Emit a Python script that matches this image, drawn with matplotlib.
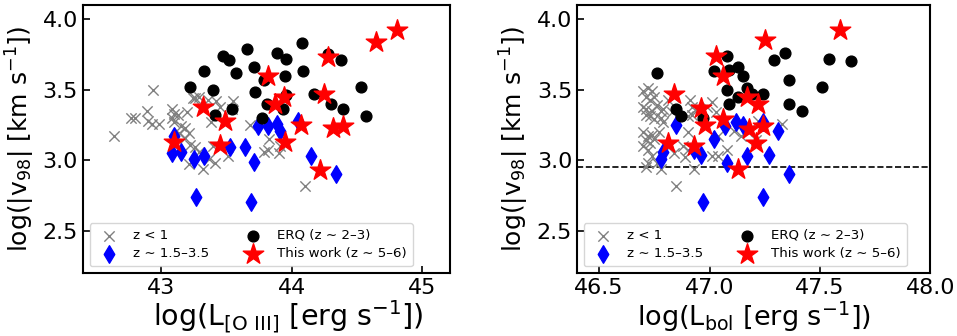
import matplotlib.pyplot as plt
import numpy as np

# ---- datos: panel izquierdo (L[OIII]) ----
loiii_low = [42.64, 42.77, 42.80, 42.89, 42.90, 42.93, 42.98, 42.94, 43.08, 43.10,
             43.08, 43.13, 43.10, 43.15, 43.20, 43.26, 43.29, 43.36, 43.42, 43.45,
             43.55, 43.54, 43.38, 43.21, 43.18, 43.22, 43.26, 43.29, 43.40, 43.37,
             43.41, 43.32, 43.21, 43.51, 43.68, 43.79, 43.82, 43.90, 43.83, 43.91,
             44.10, 43.14, 43.18, 43.24]
v98_low_l = [3.17, 3.30, 3.30, 3.35, 3.28, 3.26, 3.26, 3.50, 3.36, 3.33,
             3.30, 3.32, 3.27, 3.24, 3.34, 3.44, 3.45, 3.43, 3.42, 3.38,
             3.42, 3.36, 3.27, 3.19, 3.16, 3.11, 3.09, 3.06, 3.10, 3.01,
             2.98, 2.94, 2.97, 3.03, 3.25, 3.06, 3.07, 3.05, 3.15, 3.10,
             2.82, 3.19, 3.23, 3.44]

loiii_mid = [43.10, 43.08, 43.15, 43.25, 43.33, 43.53, 43.64, 43.71, 43.74, 43.82,
             43.89, 43.91, 44.05, 44.15, 44.34, 43.27, 43.69]
v98_mid_l = [3.17, 3.05, 3.06, 3.01, 3.03, 3.09, 3.09, 2.99, 3.24, 3.24,
             3.26, 3.21, 3.28, 3.03, 2.90, 2.74, 2.70]

loiii_erq = [43.22, 43.33, 43.40, 43.47, 43.52, 43.57, 43.54, 43.41, 43.66, 43.71,
             43.72, 43.77, 43.81, 43.79, 43.89, 43.96, 43.95, 43.96, 43.93, 44.08,
             44.09, 44.17, 44.28, 44.38, 44.30, 44.39, 44.53, 44.57]
v98_erq_l = [3.52, 3.63, 3.50, 3.74, 3.71, 3.62, 3.36, 3.32, 3.79, 3.66,
             3.48, 3.30, 3.40, 3.57, 3.76, 3.72, 3.60, 3.46, 3.36, 3.83,
             3.63, 3.47, 3.75, 3.71, 3.40, 3.36, 3.52, 3.31]

loiii_tw = [43.10, 43.32, 43.45, 43.49, 43.82, 43.87, 43.94, 43.95, 44.07, 44.22,
            44.25, 44.28, 44.32, 44.39, 44.65, 44.81]
v98_tw_l = [3.13, 3.38, 3.11, 3.28, 3.60, 3.40, 3.45, 3.13, 3.25, 2.93,
            3.47, 3.73, 3.23, 3.24, 3.84, 3.92]

# ---- datos: panel derecho (Lbol) ----
lbol_low = [46.70, 46.72, 46.74, 46.71, 46.73, 46.75, 46.70, 46.71, 46.74, 46.76,
            46.78, 46.79, 46.71, 46.73, 46.75, 46.78, 46.79, 46.70, 46.72, 46.74,
            46.77, 46.71, 46.73, 46.75, 46.70, 46.72, 46.74, 46.72, 46.76, 46.78,
            46.71, 46.83, 46.84, 46.81, 46.91, 46.92, 46.90, 46.92, 46.94, 46.99,
            47.01, 47.03, 46.90, 46.88, 46.90, 46.93, 46.89, 46.85, 47.04, 47.08,
            47.04, 47.11, 47.14, 47.17, 47.21, 47.22, 47.33, 46.82, 46.84, 47.01]
v98_low_r = [3.49, 3.51, 3.49, 3.45, 3.43, 3.45, 3.38, 3.36, 3.35, 3.39,
             3.35, 3.36, 3.32, 3.31, 3.29, 3.30, 3.27, 3.20, 3.17, 3.18,
             3.20, 3.14, 3.12, 3.15, 3.10, 3.07, 3.03, 2.98, 2.98, 2.94,
             2.95, 3.34, 3.45, 3.43, 3.43, 3.38, 3.31, 3.32, 3.36, 3.38,
             3.41, 3.34, 3.20, 3.10, 3.07, 2.94, 3.02, 2.82, 3.03, 3.07,
             3.17, 3.21, 3.17, 3.21, 3.14, 3.28, 3.26, 3.10, 3.05, 3.03]

lbol_mid = [46.79, 46.78, 46.85, 46.93, 46.96, 47.02, 47.07, 47.08, 47.12, 47.15,
            47.17, 47.24, 47.27, 47.31, 47.36, 47.24, 46.97]
v98_mid_r = [3.06, 3.01, 3.25, 3.07, 3.04, 3.15, 3.24, 2.98, 3.27, 3.25,
             3.03, 3.27, 3.04, 3.21, 2.90, 2.74, 2.70]

lbol_erq = [46.76, 46.85, 46.87, 46.97, 47.02, 47.08, 47.09, 47.13, 47.15, 47.08,
            47.09, 47.13, 47.17, 47.19, 47.24, 47.29, 47.34, 47.36, 47.36, 47.42,
            47.51, 47.54, 47.64]
v98_erq_r = [3.62, 3.36, 3.31, 3.30, 3.63, 3.74, 3.64, 3.66, 3.60, 3.50,
             3.40, 3.45, 3.51, 3.47, 3.47, 3.71, 3.76, 3.57, 3.40, 3.35,
             3.52, 3.72, 3.70]

lbol_tw = [46.81, 46.84, 46.93, 46.96, 46.98, 47.03, 47.06, 47.06, 47.13, 47.17,
           47.18, 47.21, 47.22, 47.24, 47.25, 47.59]
v98_tw_r = [3.12, 3.47, 3.10, 3.37, 3.25, 3.74, 3.60, 3.29, 2.94, 3.45,
            3.22, 3.12, 3.40, 3.24, 3.85, 3.92]

linea_corte = 2.95

etiquetas = ['z < 1', 'z ∼ 1.5–3.5', 'ERQ (z ∼ 2–3)', 'This work (z ∼ 5–6)']

fig = plt.figure(figsize=(9.57, 3.36), dpi=100)
ax1 = fig.add_axes([0.0867, 0.1875, 0.3830, 0.7975])
ax2 = fig.add_axes([0.6030, 0.1875, 0.3693, 0.7975])


def dibujar(ax, xl, yl, xm, ym, xe, ye, xt, yt):
    ax.scatter(xl, yl, marker='x', s=55, c='gray', linewidths=1.0, label=etiquetas[0], zorder=2)
    ax.scatter(xm, ym, marker='d', s=80, c='blue', label=etiquetas[1], zorder=3)
    ax.scatter(xe, ye, marker='o', s=60, c='black', label=etiquetas[2], zorder=4)
    ax.scatter(xt, yt, marker='*', s=240, c='red', label=etiquetas[3], zorder=5)
    ax.tick_params(direction='in', labelsize=16, length=5, width=1.2)
    for sp in ax.spines.values():
        sp.set_linewidth(1.5)
    ax.set_ylim(2.2, 4.1)
    ax.set_yticks([2.5, 3.0, 3.5, 4.0])
    ax.set_ylabel(r'log(|v$_{98}$| [km s$^{-1}$])', fontsize=18)
    ax.legend(loc='lower left', ncol=2, fontsize=9.6, handletextpad=0.8,
              columnspacing=2.3, borderpad=0.45, labelspacing=0.4,
              handlelength=2.0, borderaxespad=0.5)


dibujar(ax1, loiii_low, v98_low_l, loiii_mid, v98_mid_l, loiii_erq, v98_erq_l, loiii_tw, v98_tw_l)
ax1.set_xlim(42.4, 45.21)
ax1.set_xticks([43, 44, 45])
ax1.set_xlabel(r'log(L$_{\rm [O\ III]}$ [erg s$^{-1}$])', fontsize=20.5)
ax1.xaxis.set_label_coords(0.56, -0.095)
ax1.xaxis.label.set_va('top')

dibujar(ax2, lbol_low, v98_low_r, lbol_mid, v98_mid_r, lbol_erq, v98_erq_r, lbol_tw, v98_tw_r)
ax2.axhline(linea_corte, color='black', ls='--', lw=1.2, zorder=1)
ax2.set_xlim(46.4, 48.0)
ax2.set_xticks([46.5, 47.0, 47.5, 48.0])
ax2.set_xlabel(r'log(L$_{\rm bol}$ [erg s$^{-1}$])', fontsize=19.5, labelpad=1)

plt.savefig('out.png', dpi=100)
